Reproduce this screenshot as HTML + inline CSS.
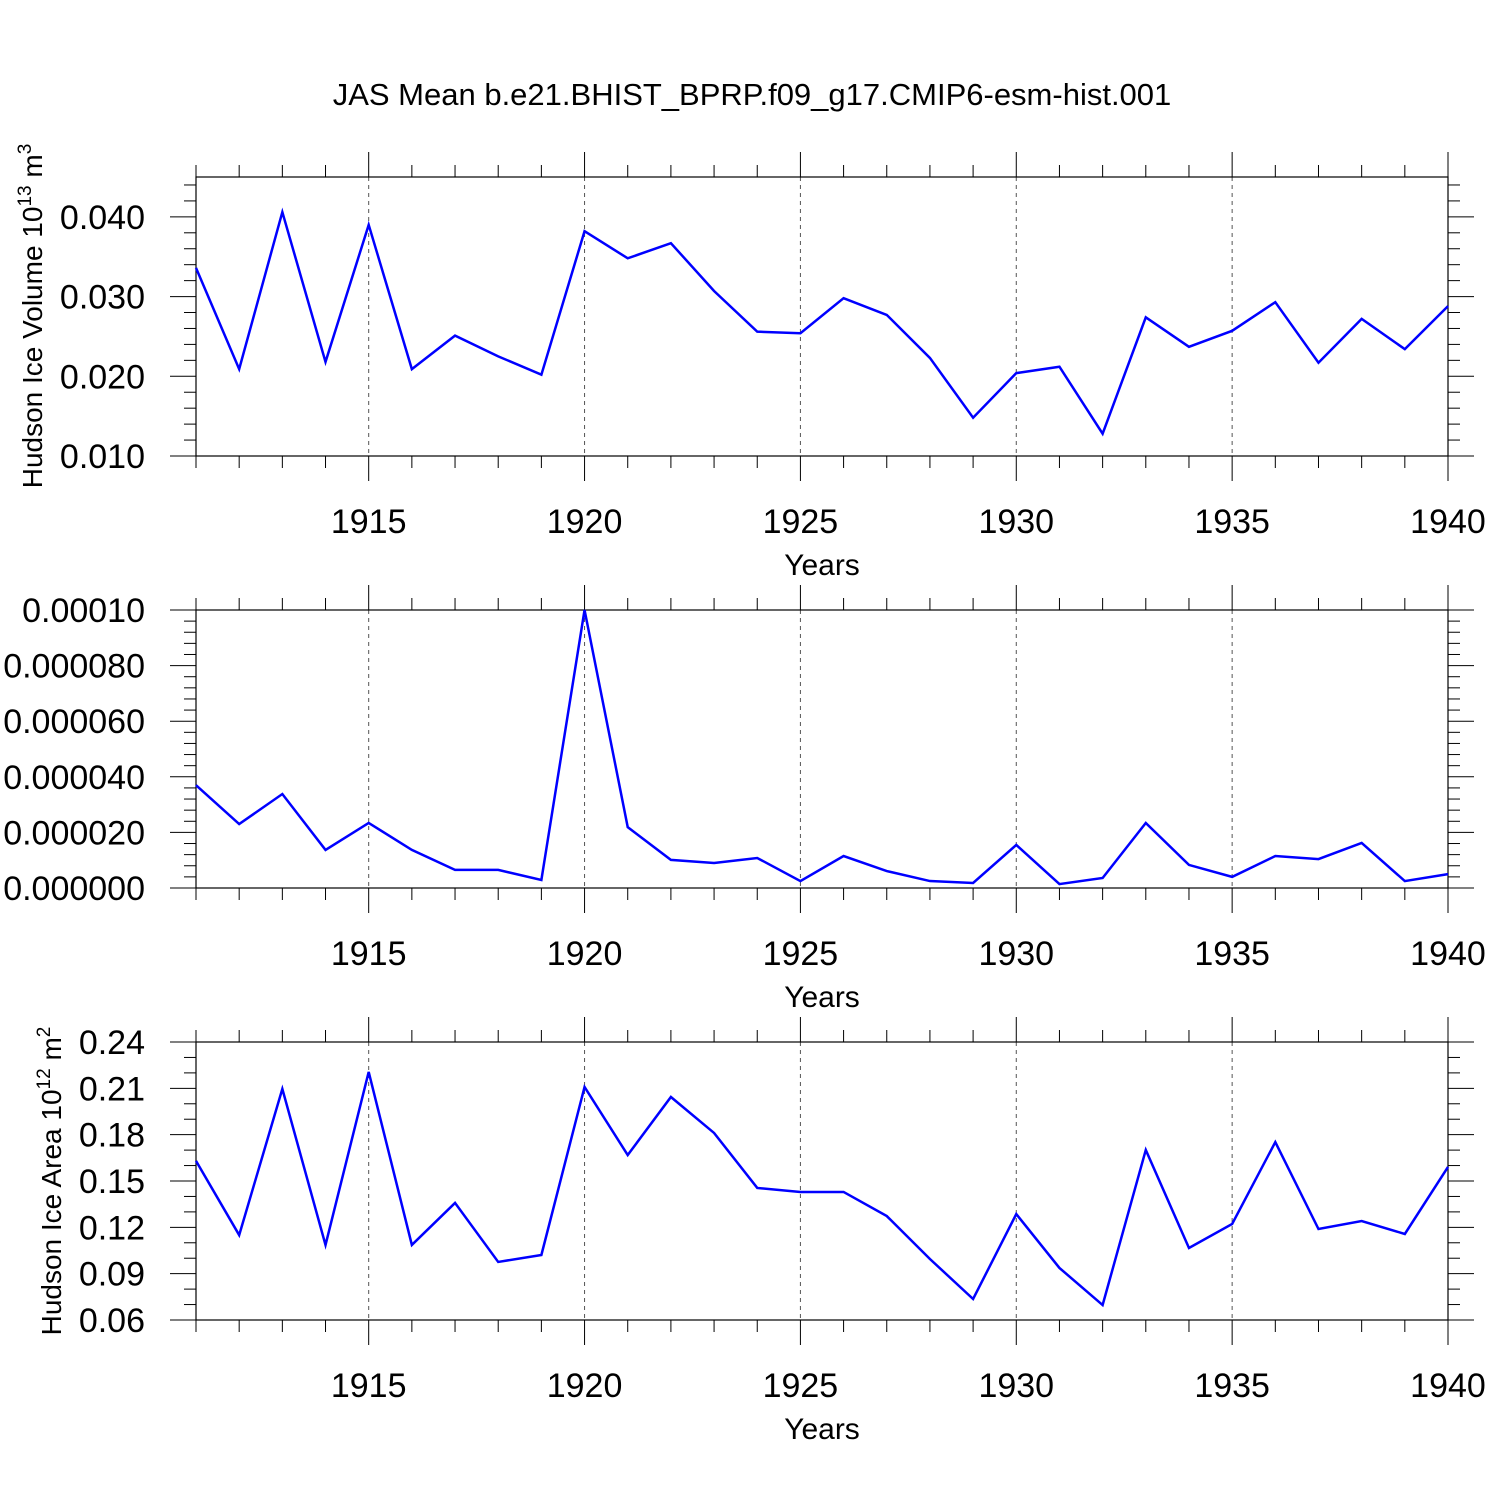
<!DOCTYPE html>
<html><head><meta charset="utf-8"><style>
html,body{margin:0;padding:0;background:#fff;}
svg{display:block;font-family:"Liberation Sans",Arial,sans-serif;}
</style></head><body>
<svg id="chart" width="1500" height="1500" viewBox="0 0 1500 1500" xmlns="http://www.w3.org/2000/svg">
<rect width="1500" height="1500" fill="#fff"/>
<text x="752" y="105" font-size="31" text-anchor="middle">JAS Mean b.e21.BHIST_BPRP.f09_g17.CMIP6-esm-hist.001</text>
</svg>
<script>
const years = [1911,1912,1913,1914,1915,1916,1917,1918,1919,1920,1921,1922,1923,1924,1925,1926,1927,1928,1929,1930,1931,1932,1933,1934,1935,1936,1937,1938,1939,1940];
const volumeValues = [0.0336,0.0209,0.0406,0.0218,0.0390,0.0209,0.0251,0.0225,0.0202,0.0382,0.0348,0.0367,0.0307,0.0256,0.0254,0.0298,0.0277,0.0223,0.0148,0.0204,0.0212,0.0128,0.0274,0.0237,0.0257,0.0293,0.0217,0.0272,0.0234,0.0288];
const middleValues = [0.0000370,0.0000230,0.0000338,0.0000137,0.0000234,0.0000137,0.0000065,0.0000065,0.0000029,0.0001,0.0000219,0.0000101,0.0000090,0.0000108,0.0000025,0.0000115,0.0000061,0.0000025,0.0000018,0.0000155,0.0000014,0.0000036,0.0000234,0.0000083,0.0000040,0.0000115,0.0000104,0.0000162,0.0000025,0.0000050];
const areaValues = [0.163,0.115,0.2096,0.1086,0.2206,0.1086,0.1358,0.0976,0.1021,0.2109,0.1668,0.2044,0.1811,0.1455,0.1429,0.1429,0.1273,0.0995,0.0736,0.1286,0.0937,0.0697,0.1701,0.1066,0.1222,0.1752,0.1189,0.1241,0.1157,0.1591];
const xTickLabels = [1915,1920,1925,1930,1935,1940];
const volumeTicks = ["0.010","0.020","0.030","0.040"];
const middleTicks = ["0.000000","0.000020","0.000040","0.000060","0.000080","0.00010"];
const areaTicks = ["0.06","0.09","0.12","0.15","0.18","0.21","0.24"];

const NS="http://www.w3.org/2000/svg";
const svg=document.getElementById('chart');
function mk(tag,attrs,parent){const e=document.createElementNS(NS,tag);for(const k in attrs)e.setAttribute(k,attrs[k]);(parent||svg).appendChild(e);return e;}

const X0=196,X1=1448;
const xScale=y=>X0+(y-1911)/(1940-1911)*(X1-X0);

function panel(cfg){
  const g=mk('g',{});
  
  
  const yS=v=>cfg.bot-(v-cfg.min)/(cfg.max-cfg.min)*(cfg.bot-cfg.top);
  xTickLabels.forEach(yr=>{ if(yr<1940){const l=mk('line',{x1:xScale(yr),x2:xScale(yr),y1:cfg.top,y2:cfg.bot,stroke:'#555','stroke-width':1,'stroke-dasharray':'4,4'},g);
    
    }});
  years.forEach(yr=>{const x=xScale(yr);const major=yr%5===0;const len=major?25:12;
    mk('line',{x1:x,x2:x,y1:cfg.top-len,y2:cfg.top,stroke:'#000','stroke-width':1},g);
    mk('line',{x1:x,x2:x,y1:cfg.bot,y2:cfg.bot+len,stroke:'#000','stroke-width':1},g);});
  const nMinor=Math.round((cfg.max-cfg.min)/cfg.minor);
  for(let i=0;i<=nMinor;i++){const v=cfg.min+i*cfg.minor;const y=yS(v);
    const rel=(v-cfg.min)/cfg.major;const major=Math.abs(rel-Math.round(rel))<1e-6;const len=major?26:12;
    mk('line',{x1:X0-len,x2:X0,y1:y,y2:y,stroke:'#000','stroke-width':1},g);
    mk('line',{x1:X1,x2:X1+len,y1:y,y2:y,stroke:'#000','stroke-width':1},g);}
  cfg.ticks.forEach(t=>{const y=yS(parseFloat(t));const tx=mk('text',{x:145,y:y+12,'font-size':34,'text-anchor':'end'},g);tx.textContent=t;
    
    });
  xTickLabels.forEach(yr=>{const tx=mk('text',{x:xScale(yr),y:cfg.bot+77,'font-size':34,'text-anchor':'middle'},g);tx.textContent=yr;
    
    });
  const xt=mk('text',{x:822,y:cfg.bot+119,'font-size':30,'text-anchor':'middle'},g);xt.textContent='Years';
  
  
  const b=mk('rect',{x:X0,y:cfg.top,width:X1-X0,height:cfg.bot-cfg.top,fill:'none',stroke:'#000','stroke-width':1.2},g);
  
  
  const pts=years.map((yr,i)=>xScale(yr)+','+yS(cfg.data[i])).join(' ');
  const pl=mk('polyline',{points:pts,fill:'none',stroke:'#0000ff','stroke-width':2.5,'stroke-linejoin':'miter'},g);
  
  
  if(cfg.ylabel){
    const t=mk('text',{transform:`translate(${cfg.ylx},${cfg.ylc}) rotate(-90)`,'font-size':28,'text-anchor':'middle'},g);
    t.innerHTML=cfg.ylabel;
    
    
  }
}
panel({name:'volume-panel',top:177,bot:456,min:0.010,max:0.045,major:0.010,minor:0.002,ticks:volumeTicks,data:volumeValues,ylx:42,ylc:316,
  ylabel:'Hudson Ice Volume 10<tspan dy="-11" font-size="19">13</tspan><tspan dy="11"> m</tspan><tspan dy="-11" font-size="19">3</tspan>'});
panel({name:'middle-panel',top:610,bot:888,min:0,max:0.0001,major:0.00002,minor:0.000004,ticks:middleTicks,data:middleValues});
panel({name:'area-panel',top:1042,bot:1320,min:0.06,max:0.24,major:0.03,minor:0.01,ticks:areaTicks,data:areaValues,ylx:61,ylc:1181,
  ylabel:'Hudson Ice Area 10<tspan dy="-11" font-size="19">12</tspan><tspan dy="11"> m</tspan><tspan dy="-11" font-size="19">2</tspan>'});
</script>
</body></html>
